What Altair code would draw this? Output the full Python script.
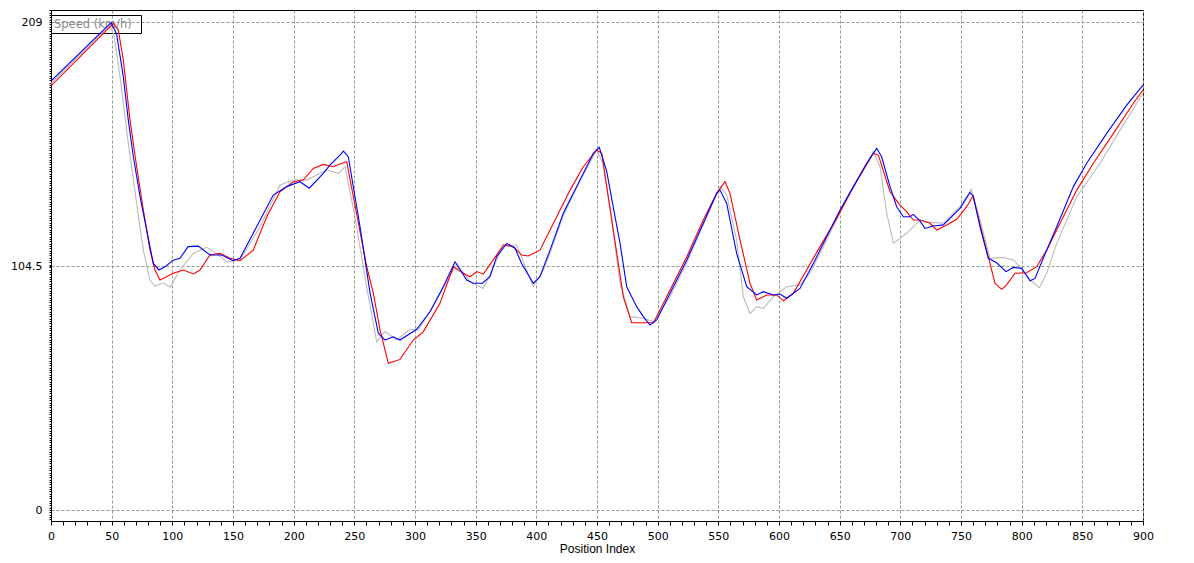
import altair as alt
import pandas as pd

# ---- data ----
blue_x = [0, 49.5, 54, 59.6, 63.7, 67.9, 73.4, 78.9, 84.3, 89, 94, 100.8, 106.3, 113, 121.4, 131, 140.7, 150, 155.8,
          169.5, 183.2, 194.2, 205.2, 212.9, 224.4, 230, 238.2, 241, 245, 254.7, 263, 269.8, 275.3, 282, 287.6, 301.4,
          312.4, 323.3, 333, 342.6, 348, 355.5, 361.8, 367.3, 375.6, 382.4, 387.9, 397.5, 403, 411.3, 422.2, 436, 447,
          451.9, 458, 464, 469, 474.5, 482.7, 488.2, 493.7, 499.2, 510.2, 524, 537.6, 548.6, 551.4, 556.9, 565.1, 573.4,
          581.6, 587.1, 595.3, 600.8, 606.3, 617.3, 628.3, 639.3, 650.3, 661.3, 672.3, 680.5, 684.6, 691.5, 697, 702.5,
          708, 710.7, 716, 720.3, 727.2, 735.4, 749.2, 757.4, 760.2, 765.7, 772.5, 779.4, 787.1, 793.1, 800, 806.9, 811,
          817.8, 828.9, 842.6, 853.6, 870.1, 886.6, 900]
blue_y = [183.7, 208.7, 204, 185.6, 167, 151.3, 134.2, 119.9, 105.6, 102.8, 104.2, 107, 107.8, 112.8, 113, 109.2, 109.2,
          106.8, 107.8, 121.3, 134.9, 138.5, 140.6, 137.8, 144.2, 147.8, 152, 153.7, 151.3, 121.3, 92.8, 75.7, 72.8, 74.2,
          72.8, 77.4, 84.9, 95.6, 106.3, 98.5, 97.1, 97.1, 99.9, 108.5, 114.2, 112.1, 105.6, 97.1, 99.9, 111.3, 127.1,
          141.3, 152.8, 155.3, 145, 128, 114.2, 95.6, 87.1, 82.8, 79.2, 81.4, 92.8, 107.1, 122.8, 135.6, 137, 131.3,
          109.9, 95.6, 92.1, 93.5, 92.1, 92.5, 90.7, 94.9, 105.6, 117, 128.5, 138.5, 148.5, 154.9, 151.3, 138.5, 129.9,
          125.6, 125.6, 126.6, 123.9, 120.6, 121.6, 122.1, 129.2, 136, 134.2, 121.3, 107.8, 105.9, 102.1, 103.9, 103.5,
          98.2, 99.2, 107.8, 121.3, 138.5, 148.5, 161.3, 173.4, 182]

red_x = [0, 51.4, 55.5, 59.6, 65.1, 70.6, 76.1, 81.6, 85.7, 89.8, 100.8, 109.1, 117.3, 122.8, 131, 139.3, 147.5, 155.8,
         166.7, 177.8, 188.7, 199.7, 207.9, 216.2, 224.4, 232.7, 237, 243.7, 249.2, 260.2, 265.7, 271.2, 278, 287.6,
         298.6, 306.9, 320.6, 331.6, 339.8, 345.3, 350.9, 356.3, 364.5, 372.8, 381, 387.9, 393.4, 403, 416.8, 427.8,
         438.7, 449.8, 453.9, 463.4, 471.7, 478.6, 496.6, 510.2, 524, 537.6, 548.6, 555.5, 559.6, 567.9, 576.1, 581.6,
         589.9, 598.1, 603.6, 611.8, 622.8, 633.8, 647.6, 661.3, 677.8, 681.9, 691.5, 699.7, 705.2, 710.7, 716.2, 724.5,
         730, 738.2, 746.5, 754.7, 759.9, 766.8, 773.9, 778, 783.5, 787.6, 794.5, 804.1, 812.4, 820.6, 831.6, 845.4,
         859.1, 875.6, 892.1, 900]
red_y = [181.6, 208.4, 205.6, 192.7, 167, 147, 128.5, 111.3, 102.8, 98.5, 101.4, 102.8, 101.1, 102.8, 109.2, 109.9,
         107.8, 106.8, 111.3, 125.6, 136.3, 140.6, 141.3, 146.3, 148, 147, 148, 149.2, 134.2, 104.2, 92.8, 77.1, 62.8,
         64.5, 72.8, 76.4, 88.5, 104.2, 101.4, 99.9, 102.1, 101, 107.1, 113.5, 112.8, 109.2, 108.8, 111.3, 125.6, 137,
         147, 154.2, 152.8, 119.9, 91.3, 80.2, 80.2, 94.2, 108.5, 124.2, 135.6, 140.6, 135.6, 115.6, 97.1, 89.9, 92.1,
         92.1, 89.6, 92.8, 102.8, 112.8, 124.9, 138.5, 152.8, 152, 136.3, 130.6, 127.8, 124.2, 124.2, 122.8, 119.9,
         122.1, 124.5, 129.9, 134.5, 119.9, 105.6, 97.1, 94.5, 96.4, 101.4, 101.6, 104.2, 111.3, 122.8, 137, 148.5,
         161.3, 174.2, 179.9]

gray_x = [0, 48.6, 52, 56.9, 63.7, 70.6, 76.1, 81.6, 85.7, 92.6, 98.1, 106.3, 117.3, 128.3, 136.6, 144.8, 155.8, 172.3,
          188.7, 199.7, 210.7, 227.2, 236.8, 242.3, 250, 260, 268.4, 275.3, 284.9, 295.9, 302.8, 317.9, 334.4, 345.3,
          356.3, 367.3, 372.8, 383.8, 397.5, 405.7, 411.3, 422.2, 436, 449.8, 455, 462, 469, 477.2, 488.2, 496.6, 510.2,
          524, 537.6, 551.4, 556.9, 565.1, 570.6, 576.1, 581.6, 587.1, 595.3, 606.3, 617.3, 625.6, 639.3, 650.3, 661.3,
          677.8, 683.3, 688.8, 694.3, 705.2, 716.2, 724.5, 735.4, 749.2, 758.5, 765.7, 773.9, 784.9, 793.1, 798.6, 806.9,
          814.6, 820.6, 828.9, 845.4, 864.6, 881.1, 900]
gray_y = [182.6, 207.7, 203, 185.6, 157, 131.3, 111.3, 98.5, 95.9, 97.3, 95.4, 102.8, 109.9, 112.5, 109.9, 106.3, 107.1,
          121.3, 139.2, 141.3, 141.3, 145.6, 144.2, 147, 127, 96, 72.1, 76.4, 72.8, 77.4, 77.1, 89.9, 105.6, 97.8, 94.9,
          107.1, 113.5, 113.5, 95.6, 102.8, 110, 126, 141, 154.2, 148, 125, 97.1, 82.8, 82.1, 80.6, 91.3, 106, 122, 138.5,
          134.9, 115.6, 91.3, 84.2, 87.1, 86.4, 91.3, 95.6, 96.4, 101.4, 115.6, 127.5, 138, 153.5, 147, 127.1, 114.2,
          118.5, 124.2, 123.2, 122.8, 129.9, 137.3, 124.2, 107.8, 108.2, 107.1, 104.2, 98.5, 95.2, 101.4, 114.2, 134.2,
          148.5, 162.7, 178.5]

y_major = [0, 104.5, 209]
x_major_step = 50
legend_label = "Speed (km/h)"
x_title = "Position Index"

# ---- styling / scales ----
FONT = "DejaVu Sans"
GRID = "#8c9c8c"
x_scale = alt.Scale(domain=[0, 900], nice=False, zero=False)
y_scale = alt.Scale(domain=[-4.71, 214.14], nice=False, zero=False)

x_ticks = list(range(0, 901, 10))
y_ticks = sorted(set([float(v) for v in range(-4, 215, 1)] + [104.5]))

x_axis = alt.Axis(
    values=x_ticks, title=x_title, grid=True,
    gridOpacity={"condition": {"test": f"datum.value % {x_major_step} === 0", "value": 1}, "value": 0},
    gridColor=GRID, gridDash=[3, 2], gridWidth=1,
    labelExpr=f"datum.value % {x_major_step} === 0 ? datum.label : ''",
    labelOverlap=False, labelFlush=False, labelFont=FONT, labelFontSize=11, labelColor="#000000",
    labelPadding=5, tickSize=4, tickColor="#000000", domainColor="#000000",
    titleFont="Liberation Sans", titleFontSize=12, titleFontWeight="normal", titleColor="#000000",
    titleBaseline="alphabetic", titleY=31,
)
y_axis = alt.Axis(
    values=y_ticks, title=None, grid=True,
    gridOpacity={"condition": {"test": "datum.value === 0 || datum.value === 104.5 || datum.value === 209",
                               "value": 1}, "value": 0},
    gridColor=GRID, gridDash=[3, 2], gridWidth=1,
    labelExpr="datum.value === 0 ? '0' : datum.value === 104.5 ? '104.5' : datum.value === 209 ? '209' : ''",
    labelOverlap=False, labelFont=FONT, labelFontSize=11, labelColor="#000000",
    labelPadding=7, tickSize=2, tickColor="#000000", domainColor="#000000",
)


def series_df(xs, ys):
    return pd.DataFrame({"idx": xs, "speed": ys})


def line_layer(xs, ys, color):
    return alt.Chart(series_df(xs, ys)).mark_line(color=color, strokeWidth=1.1, clip=True).encode(
        x=alt.X("idx:Q", scale=x_scale, axis=x_axis),
        y=alt.Y("speed:Q", scale=y_scale, axis=y_axis),
        order=alt.Order("idx:Q"),
    )


label_df = pd.DataFrame({"t": [legend_label]})
box = alt.Chart(label_df).mark_rect(fill="white", fillOpacity=0, stroke="black", strokeWidth=1).encode(
    x=alt.value(0.5), x2=alt.value(90.5), y=alt.value(5.5), y2=alt.value(23.5)
)
box_text = alt.Chart(label_df).mark_text(align="left", baseline="middle", font=FONT, fontSize=11.5,
                                         color="#8a8a8a").encode(
    text="t:N", x=alt.value(3), y=alt.value(14.5)
)

chart = alt.layer(
    box, box_text,
    line_layer(gray_x, gray_y, "#bcbcbc"),
    line_layer(red_x, red_y, "#ff0000"),
    line_layer(blue_x, blue_y, "#0000ff"),
).properties(
    width=1092, height=511,
    autosize=alt.AutoSizeParams(type="none"),
    padding={"left": 43, "top": 2, "right": 40, "bottom": 34},
    background="white",
).configure_view(stroke="black", strokeWidth=1)

chart.save("out.html", embed_options={"renderer": "svg", "actions": False})
